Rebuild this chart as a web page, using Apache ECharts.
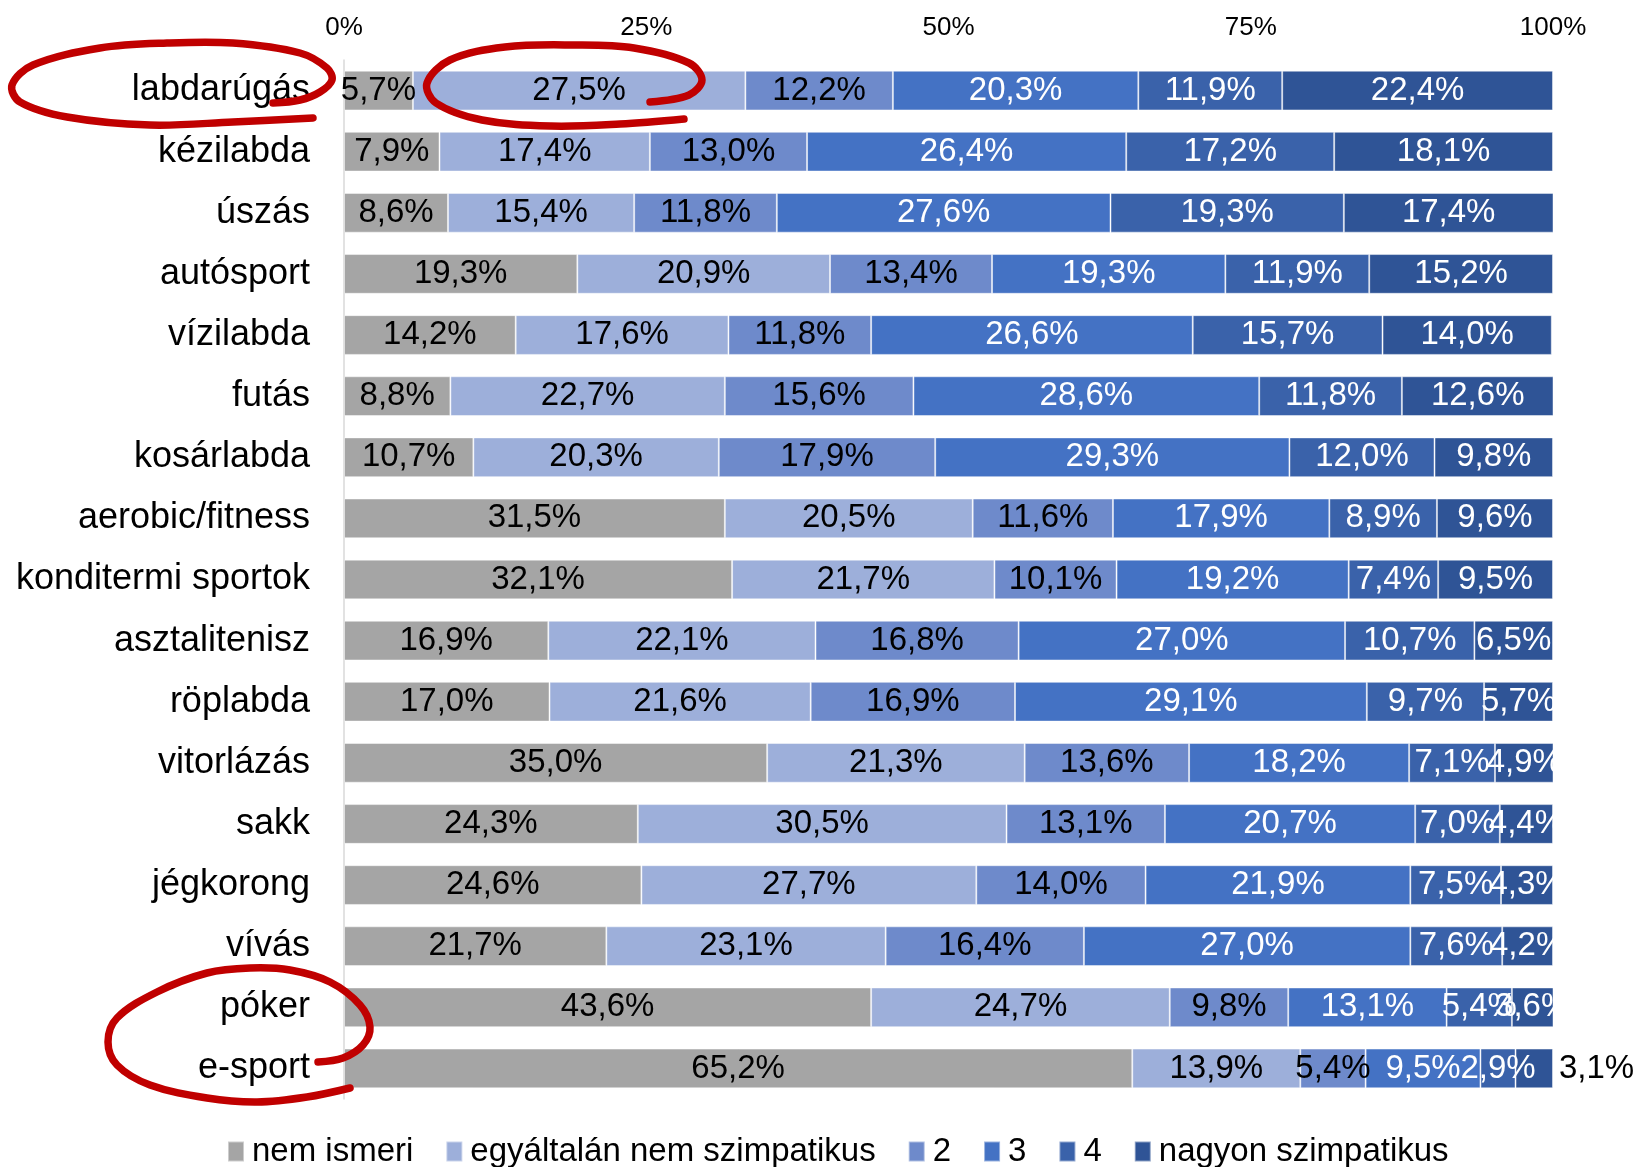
<!DOCTYPE html>
<html>
<head>
<meta charset="utf-8">
<script src="https://cdn.jsdelivr.net/npm/echarts@6/dist/echarts.min.js"></script>
<style>
html,body{margin:0;padding:0;background:#fff;}
#chart{width:1636px;height:1167px;}
</style>
</head>
<body>
<div id="chart"></div>
<script>
const categories = ['labdarúgás','kézilabda','úszás','autósport','vízilabda','futás','kosárlabda','aerobic/fitness','konditermi sportok','asztalitenisz','röplabda','vitorlázás','sakk','jégkorong','vívás','póker','e-sport'];
const seriesNames = ['nem ismeri','egyáltalán nem szimpatikus','2','3','4','nagyon szimpatikus'];
const nemIsmeri   = [5.7, 7.9, 8.6, 19.3, 14.2, 8.8, 10.7, 31.5, 32.1, 16.9, 17.0, 35.0, 24.3, 24.6, 21.7, 43.6, 65.2];
const egyaltalan  = [27.5, 17.4, 15.4, 20.9, 17.6, 22.7, 20.3, 20.5, 21.7, 22.1, 21.6, 21.3, 30.5, 27.7, 23.1, 24.7, 13.9];
const ertek2      = [12.2, 13.0, 11.8, 13.4, 11.8, 15.6, 17.9, 11.6, 10.1, 16.8, 16.9, 13.6, 13.1, 14.0, 16.4, 9.8, 5.4];
const ertek3      = [20.3, 26.4, 27.6, 19.3, 26.6, 28.6, 29.3, 17.9, 19.2, 27.0, 29.1, 18.2, 20.7, 21.9, 27.0, 13.1, 9.5];
const ertek4      = [11.9, 17.2, 19.3, 11.9, 15.7, 11.8, 12.0, 8.9, 7.4, 10.7, 9.7, 7.1, 7.0, 7.5, 7.6, 5.4, 2.9];
const nagyon      = [22.4, 18.1, 17.4, 15.2, 14.0, 12.6, 9.8, 9.6, 9.5, 6.5, 5.7, 4.9, 4.4, 4.3, 4.2, 3.6, 3.1];
const tickValues  = [0, 25, 50, 75, 100];

const colors = ['#A5A5A5','#9DAFDA','#6E8ACB','#4472C4','#3A62AA','#2F5496'];
const labelColors = ['#000','#000','#000','#fff','#fff','#fff'];
const allData = [nemIsmeri, egyaltalan, ertek2, ertek3, ertek4, nagyon];
const FONT = "'Liberation Sans', Arial, sans-serif";
const fmt = v => v.toFixed(1).replace('.', ',') + '%';

const series = allData.map((arr, si) => ({
  name: seriesNames[si],
  type: 'bar',
  stack: 'total',
  barCategoryGap: '35%',
  itemStyle: { color: colors[si], borderColor: 'rgba(255,255,255,0.45)', borderWidth: 1 },
  label: {
    show: true, position: 'inside', color: labelColors[si],
    fontFamily: FONT, fontSize: 33, offset: [0, 7],
    formatter: p => fmt(p.value)
  },
  labelLayout: { hideOverlap: false },
  data: arr.map((v, i) => {
    if (si === 5 && i === categories.length - 1) {
      return { value: v, label: { position: 'right', color: '#000', distance: 6, offset: [0, 7] } };
    }
    return v;
  })
}));

const redStyle = { stroke: '#C00000', lineWidth: 7.5, fill: null, lineCap: 'round', lineJoin: 'round' };

const chart = echarts.init(document.getElementById('chart'), null, { renderer: 'canvas' });
chart.setOption({
  animation: false,
  backgroundColor: '#fff',
  color: colors,
  textStyle: { fontFamily: FONT },
  grid: { left: 344, right: 83, top: 60, bottom: 68, containLabel: false },
  legend: {
    top: 1130, left: 222, icon: 'rect',
    itemWidth: 16, itemHeight: 20, itemGap: 32,
    textStyle: { fontFamily: FONT, fontSize: 33, color: '#000', padding: [0, 0, 0, 3] },
    data: seriesNames
  },
  xAxis: {
    type: 'value', position: 'top', min: 0, max: 100, interval: 25,
    axisLabel: { fontFamily: FONT, fontSize: 26, color: '#000', margin: 19,
      formatter: v => tickValues.includes(v) ? v + '%' : '' },
    axisLine: { show: false }, axisTick: { show: false }, splitLine: { show: false }
  },
  yAxis: {
    type: 'category', inverse: true, data: categories,
    axisLabel: { fontFamily: FONT, fontSize: 36, color: '#000', margin: 34,
      padding: [13, 0, 0, 0] },
    axisLine: { show: true, lineStyle: { color: '#D9D9D9', width: 1.5 } },
    axisTick: { show: false }
  },
  series: series,
  graphic: [
    { type: 'polyline', z: 100, silent: true, style: redStyle,
      shape: { smooth: 0.35, points: [[273,103],[300,100],[320,92],[332,80],[327,68],[300,53],[233,43],[167,43],[100,48],[33,65],[12,85],[20,102],[67,117],[150,125],[233,122],[313,118]] } },
    { type: 'polyline', z: 100, silent: true, style: redStyle,
      shape: { smooth: 0.35, points: [[650,102],[689,95],[702,80],[689,63],[634,48],[574,45],[505,47],[450,60],[427,83],[436,103],[482,120],[551,126],[620,124],[684,119]] } },
    { type: 'polyline', z: 100, silent: true, style: redStyle,
      shape: { smooth: 0.35, points: [[318,1062],[343,1058],[363,1045],[370,1027],[360,1005],[330,982],[290,970],[250,968],[207,973],[157,992],[117,1018],[108,1042],[117,1065],[150,1085],[207,1098],[257,1102],[307,1097],[350,1088]] } }
  ]
});
</script>
</body>
</html>
